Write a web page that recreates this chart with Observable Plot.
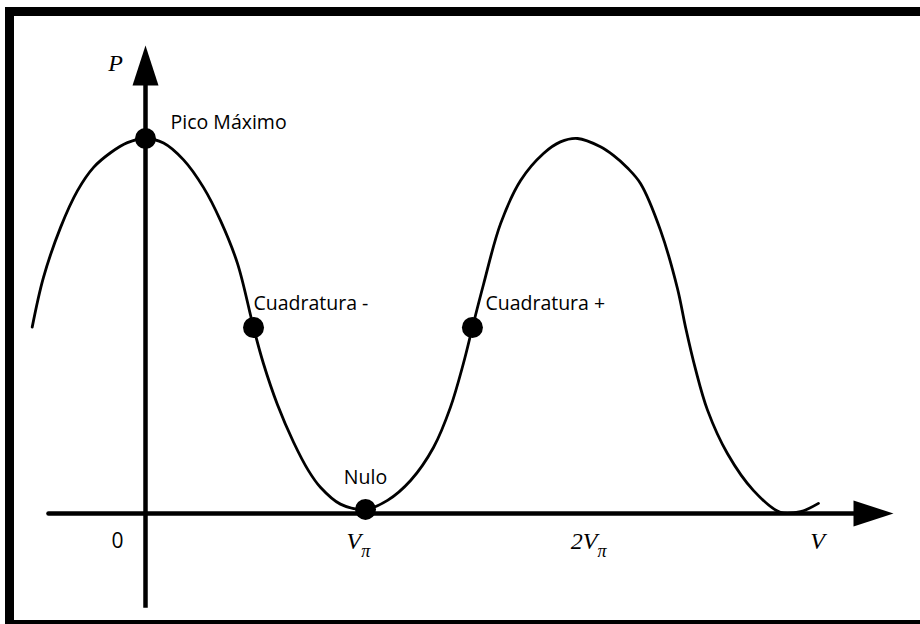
<!DOCTYPE html>
<html><head><meta charset="utf-8">
<script src="https://cdn.jsdelivr.net/npm/d3@7"></script>
<script src="https://cdn.jsdelivr.net/npm/@observablehq/plot@0.6"></script>
<style>
html,body{margin:0;padding:0;background:#fff;overflow:hidden;width:920px;height:624px}
#wrap{position:relative;width:920px;height:624px}
#chart svg{display:block}
#frame{position:absolute;left:5px;top:7px;width:1000px;height:604px;border:9px solid #000;pointer-events:none}
</style></head><body><div id="wrap"><div id="chart"></div><div id="frame"></div></div>
<script>
// Curve P(V), V in units of Vπ, P normalised to peak
const curveV = [-0.515,-0.464,-0.386,-0.309,-0.236,-0.159,-0.082,0,0.082,0.173,0.264,0.341,0.418,0.477,0.491,0.536,0.6,0.673,0.74,0.795,0.886,1.0,1.1,1.205,1.309,1.386,1.445,1.486,1.536,1.614,1.705,1.809,1.886,1.964,2.068,2.127,2.19,2.25,2.341,2.418,2.455,2.50,2.555,2.645,2.764,2.886,2.977,3.059];
const curveP = [0.497,0.629,0.763,0.861,0.923,0.962,0.989,1.0,0.988,0.943,0.869,0.781,0.667,0.53,0.496,0.40,0.29,0.19,0.115,0.07,0.025,0.011,0.035,0.088,0.176,0.283,0.40,0.496,0.61,0.773,0.888,0.96,0.991,1.0,0.978,0.955,0.922,0.88,0.755,0.60,0.496,0.385,0.275,0.16,0.061,0.003,0.005,0.027];

// Marked operating points
const pointNames = ["Pico Máximo","Cuadratura -","Nulo","Cuadratura +"];
const pointV = [0, 0.491, 1.0, 1.486];
const pointP = [1.0, 0.496, 0.011, 0.496];
const pointLabelV = [0.114, 0.491, 1.0, 1.545];
const pointLabelP = [1.043, 0.56, 0.096, 0.56];
const pointLabelCentered = [false, false, true, false];

// Axis tick labels (math)
const tickLabels = ["0","V_π","2V_π","V"];
const tickV = [-0.127, 0.968, 2.014, 3.055];
const tickP = -0.075;
const yAxisLabel = "P";

// Axis extents
const xAxisFrom = -0.441, xAxisTo = 3.40;
const yAxisFrom = -0.251, yAxisTo = 1.248;

const curve = curveV.map((v,i)=>({v, p: curveP[i]}));
const points = pointNames.map((n,i)=>({n, v: pointV[i], p: pointP[i], lv: pointLabelV[i], lp: pointLabelP[i], c: pointLabelCentered[i]}));
const ticks = tickLabels.map((t,i)=>({t, v: tickV[i], p: tickP}));

const arrowHead = { draw(ctx){ ctx.moveTo(0,0); ctx.lineTo(13,40); ctx.lineTo(-13,40); ctx.closePath(); } };

const sans = "'Open Sans', sans-serif";
const serif = "'Liberation Serif', 'DejaVu Serif', serif";
const labelSize = 19.5;

const chart = Plot.plot({
  width: 920, height: 624,
  marginLeft: 35, marginRight: 5, marginTop: 25.5, marginBottom: 17.25,
  x: {domain: [-0.5, 3.5], axis: null},
  y: {domain: [-0.25, 1.3], axis: null},
  style: {background: "transparent"},
  marks: [
    Plot.link([0], {x1: xAxisFrom, x2: xAxisTo - 0.1, y1: 0, y2: 0, stroke: "black", strokeWidth: 4.5, strokeLinecap: "round"}),
    Plot.link([0], {x1: 0, x2: 0, y1: yAxisFrom, y2: yAxisTo - 0.06, stroke: "black", strokeWidth: 4.5, strokeLinecap: "butt"}),
    Plot.dot([{v: 0, p: yAxisTo}], {x: "v", y: "p", symbol: arrowHead, fill: "black", stroke: "none", r: 10}),
    Plot.dot([{v: xAxisTo, p: 0}], {x: "v", y: "p", symbol: arrowHead, fill: "black", stroke: "none", r: 10, rotate: 90}),
    Plot.line(curve, {x: "v", y: "p", stroke: "black", strokeWidth: 2.8, curve: "catmull-rom"}),
    Plot.dot(points, {x: "v", y: "p", r: 10.5, fill: "black", stroke: "none"}),
    Plot.text(points.filter(d => !d.c), {x: "lv", y: "lp", text: "n", textAnchor: "start", fontSize: labelSize, fontFamily: sans, fill: "black"}),
    Plot.text(points.filter(d => d.c), {x: "lv", y: "lp", text: "n", textAnchor: "middle", fontSize: labelSize, fontFamily: sans, fill: "black"}),
    Plot.text(ticks.slice(0,1), {x: "v", y: "p", text: "t", fontSize: 21, fontFamily: sans, fill: "black"}),
    Plot.text(ticks.slice(1), {x: "v", y: "p", text: "t", fontSize: 24, fontFamily: serif, fontStyle: "italic", fill: "black"}),
    Plot.text([{t: yAxisLabel, v: -0.136, p: 1.2}], {x: "v", y: "p", text: "t", fontSize: 24, fontFamily: serif, fontStyle: "italic", fill: "black"})
  ]
});

// subscripts
chart.querySelectorAll("text").forEach(t => {
  const s = t.textContent;
  if (s.includes("_")) {
    const [a, b] = s.split("_");
    t.textContent = a;
    const ts = document.createElementNS("http://www.w3.org/2000/svg", "tspan");
    ts.setAttribute("dy", "0.4em");
    ts.setAttribute("font-size", "18");
    ts.textContent = b;
    t.appendChild(ts);
  }
});
document.getElementById("chart").appendChild(chart);
</script></body></html>
